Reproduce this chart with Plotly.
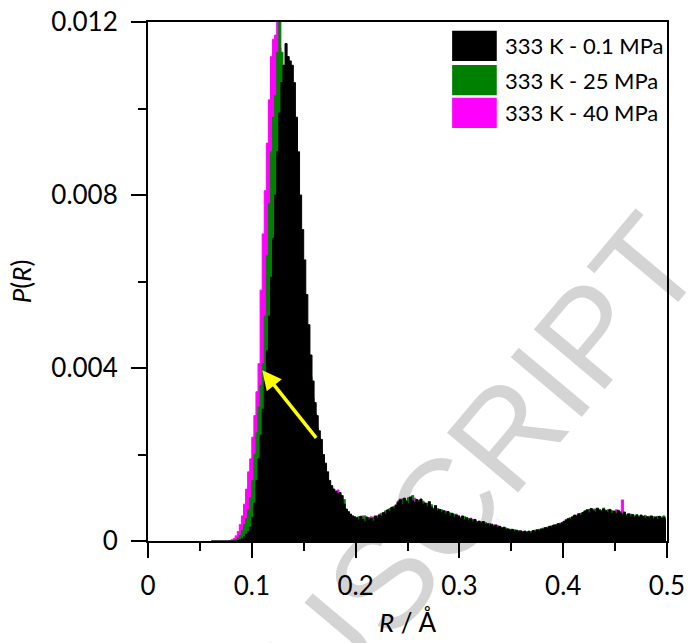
import numpy as np
import plotly.graph_objects as go

# bin centres: 0.061, 0.063, ... 0.499 (bin width 0.002)
bin_start = 0.061
bin_width = 0.002
n_bins = 220
R = np.round(bin_start + bin_width * np.arange(n_bins), 4)

# P(R) values in units of 1e-5, rows of 10 bins (row k starts at 0.061 + 0.02k)
p_01MPa = [
    0, 0, 0, 0, 0, 0, 0, 0, 0, 0,
    0, 0, 0, 1, 3, 6, 10, 16, 22, 32,
    55, 88, 140, 190, 245, 305, 370, 440, 520, 610,
    700, 800, 900, 990, 1060, 1100, 1150, 1120, 1110, 1100,
    1060, 980, 900, 800, 720, 650, 570, 500, 430, 370,
    320, 290, 255, 235, 200, 180, 160, 140, 128, 120,
    115, 110, 112, 105, 85, 74, 68, 62, 58, 56,
    54, 48, 57, 50, 45, 55, 49, 52, 46, 58,
    53, 60, 57, 66, 62, 72, 68, 78, 74, 82,
    88, 95, 84, 99, 91, 86, 102, 93, 89, 96,
    90, 97, 85, 88, 80, 91, 78, 74, 82, 70,
    73, 66, 70, 62, 68, 58, 64, 55, 60, 57,
    52, 58, 49, 54, 47, 51, 44, 50, 42, 46,
    41, 45, 38, 40, 35, 39, 33, 36, 31, 34,
    29, 32, 26, 28, 24, 27, 22, 25, 21, 23,
    20, 23, 19, 22, 18, 24, 21, 26, 23, 28,
    27, 31, 29, 34, 32, 37, 35, 40, 38, 42,
    45, 48, 52, 50, 56, 60, 57, 63, 59, 66,
    68, 72, 65, 75, 70, 67, 76, 71, 69, 74,
    70, 66, 73, 64, 69, 62, 71, 65, 60, 67,
    58, 63, 56, 61, 55, 59, 54, 60, 57, 52,
    56, 53, 58, 51, 55, 50, 57, 52, 54, 49,
]
p_25MPa = [
    0, 0, 0, 0, 0, 0, 0, 0, 0, 0,
    0, 1, 3, 7, 14, 24, 38, 52, 72, 100,
    140, 200, 250, 310, 360, 410, 520, 660, 780, 900,
    980, 1030, 1130, 1200, 1130, 1080, 1050, 1010, 980, 940,
    890, 830, 760, 690, 620, 560, 490, 430, 380, 330,
    295, 260, 238, 205, 182, 162, 142, 130, 122, 116,
    112, 108, 105, 88, 96, 70, 64, 60, 57, 55,
    50, 56, 47, 53, 58, 46, 54, 50, 55, 48,
    58, 54, 64, 59, 70, 65, 75, 71, 80, 77,
    92, 86, 97, 89, 94, 100, 88, 105, 90, 93,
    94, 87, 92, 83, 86, 77, 84, 76, 71, 75,
    68, 72, 64, 67, 60, 65, 57, 62, 54, 59,
    55, 50, 56, 47, 52, 45, 49, 47, 44, 40,
    44, 39, 43, 36, 38, 34, 37, 32, 35, 30,
    31, 27, 30, 25, 27, 23, 26, 21, 24, 22,
    22, 19, 21, 23, 20, 22, 25, 22, 27, 25,
    30, 28, 32, 30, 35, 33, 38, 36, 41, 40,
    43, 50, 47, 54, 53, 58, 55, 61, 64, 62,
    70, 66, 73, 68, 72, 74, 69, 73, 67, 76,
    67, 72, 64, 70, 67, 65, 61, 68, 63, 62,
    61, 57, 62, 58, 57, 61, 56, 58, 54, 59,
    53, 57, 52, 56, 54, 57, 51, 55, 58, 53,
]
p_40MPa = [
    0, 0, 0, 0, 0, 0, 0, 0, 0, 1,
    3, 6, 12, 22, 38, 58, 85, 120, 160, 190,
    240, 290, 345, 410, 580, 710, 810, 920, 1020, 1120,
    1160, 1170, 1200, 1140, 1080, 1040, 990, 950, 900, 850,
    790, 720, 650, 580, 520, 460, 400, 350, 310, 280,
    250, 220, 195, 175, 155, 140, 128, 120, 114, 110,
    106, 118, 92, 84, 76, 70, 66, 62, 58, 55,
    52, 47, 55, 58, 49, 53, 47, 56, 51, 54,
    56, 62, 59, 64, 67, 70, 73, 76, 79, 84,
    90, 97, 91, 95, 88, 98, 94, 90, 99, 92,
    89, 93, 88, 84, 87, 79, 80, 73, 77, 69,
    70, 68, 63, 69, 61, 63, 59, 57, 62, 55,
    54, 55, 51, 52, 49, 53, 46, 48, 45, 43,
    42, 44, 40, 37, 41, 36, 35, 38, 33, 32,
    30, 30, 28, 27, 25, 26, 24, 23, 22, 24,
    21, 22, 20, 21, 22, 21, 23, 24, 25, 27,
    29, 30, 31, 33, 34, 36, 37, 39, 40, 43,
    46, 46, 50, 53, 55, 57, 60, 60, 62, 65,
    69, 70, 68, 72, 74, 70, 73, 72, 71, 73,
    69, 68, 70, 67, 66, 72, 70, 66, 95, 64,
    60, 59, 60, 60, 58, 57, 57, 57, 56, 55,
    55, 55, 56, 53, 56, 52, 55, 53, 56, 51,
]
scale = 1e-5

series_names = ["333 K - 0.1 MPa", "333 K - 25 MPa", "333 K - 40 MPa"]
series_colors = ["#000000", "#008000", "#FF00FF"]
series_values = [p_01MPa, p_25MPa, p_40MPa]

x_ticks = [0, 0.1, 0.2, 0.3, 0.4, 0.5]
x_ticktext = ["0", "0.1", "0.2", "0.3", "0.4", "0.5"]
x_minor = [0.05, 0.15, 0.25, 0.35, 0.45]
y_ticks = [0, 0.004, 0.008, 0.012]
y_ticktext = ["0", "0.004", "0.008", "0.012"]
y_minor = [0.002, 0.006, 0.010]

arrow_tip = (0.1101, 0.00395)
arrow_tail = (0.1632, 0.00235)

FONT = "Lato"

fig = go.Figure()
# draw 40 MPa first, then 25 MPa, then 0.1 MPa on top
for name, vals, col in reversed(list(zip(series_names, series_values, series_colors))):
    fig.add_trace(go.Scatter(
        x=R, y=np.array(vals) * scale, mode="lines", line=dict(shape="hvh", width=1, color=col),
        fill="tozeroy", fillcolor=col, name=name, showlegend=False, hoverinfo="skip"))

# custom legend (large swatches)
shapes = []
annotations = []
sw_x0, sw_x1 = 0.586, 0.672
row_tops = [0.983, 0.917, 0.854]
row_h = 0.058
for i, (name, col) in enumerate(zip(series_names, series_colors)):
    y1 = row_tops[i]
    y0 = y1 - row_h
    shapes.append(dict(type="rect", xref="paper", yref="paper", x0=sw_x0, x1=sw_x1, y0=y0, y1=y1,
                       fillcolor=col, line=dict(width=0), layer="above"))
    annotations.append(dict(xref="paper", yref="paper", x=0.684, y=(y0 + y1) / 2, text=name,
                            showarrow=False, xanchor="left", yanchor="middle",
                            font=dict(family=FONT, size=22, color="black")))

# yellow arrow
annotations.append(dict(x=arrow_tip[0], y=arrow_tip[1], ax=arrow_tail[0], ay=arrow_tail[1],
                        xref="x", yref="y", axref="x", ayref="y", text="", showarrow=True,
                        arrowhead=2, arrowsize=1.1, arrowwidth=3.5, arrowcolor="#FFFF00"))

# watermark
annotations.append(dict(xref="paper", yref="paper", x=-0.02, y=-0.64, text="ACCEPTED MANUSCRIPT",
                        showarrow=False, textangle=-50, xanchor="center", yanchor="middle",
                        font=dict(family="Liberation Sans", size=135, color="rgba(0,0,0,0.17)")))

fig.update_layout(
    width=693, height=643, margin=dict(l=148, r=26, t=22, b=102, autoexpand=False),
    paper_bgcolor="white", plot_bgcolor="white", showlegend=False,
    shapes=shapes, annotations=annotations,
    font=dict(family=FONT, color="black"),
)
fig.update_xaxes(
    range=[0, 0.5], tickvals=x_ticks, ticktext=x_ticktext, ticks="outside", ticklen=15, tickwidth=2,
    tickcolor="black", showline=True, linewidth=2, linecolor="black", mirror=True, automargin=False,
    showgrid=False, zeroline=False, tickfont=dict(family=FONT, size=26), ticklabelstandoff=6,
    minor=dict(tickvals=x_minor, ticks="outside", ticklen=8, tickwidth=2, tickcolor="black", showgrid=False),
    title=dict(text="<i>R</i> / Å", font=dict(family=FONT, size=26), standoff=14),
)
fig.update_yaxes(
    range=[0, 0.012], tickvals=y_ticks, ticktext=y_ticktext, ticks="outside", ticklen=15, tickwidth=2,
    tickcolor="black", showline=True, linewidth=2, linecolor="black", mirror=True, automargin=False,
    showgrid=False, zeroline=False, tickfont=dict(family=FONT, size=26), ticklabelstandoff=8,
    minor=dict(tickvals=y_minor, ticks="outside", ticklen=8, tickwidth=2, tickcolor="black", showgrid=False),
    title=dict(text="<i>P</i>(<i>R</i>)", font=dict(family=FONT, size=26), standoff=12),
)

fig.write_html("out.html")
